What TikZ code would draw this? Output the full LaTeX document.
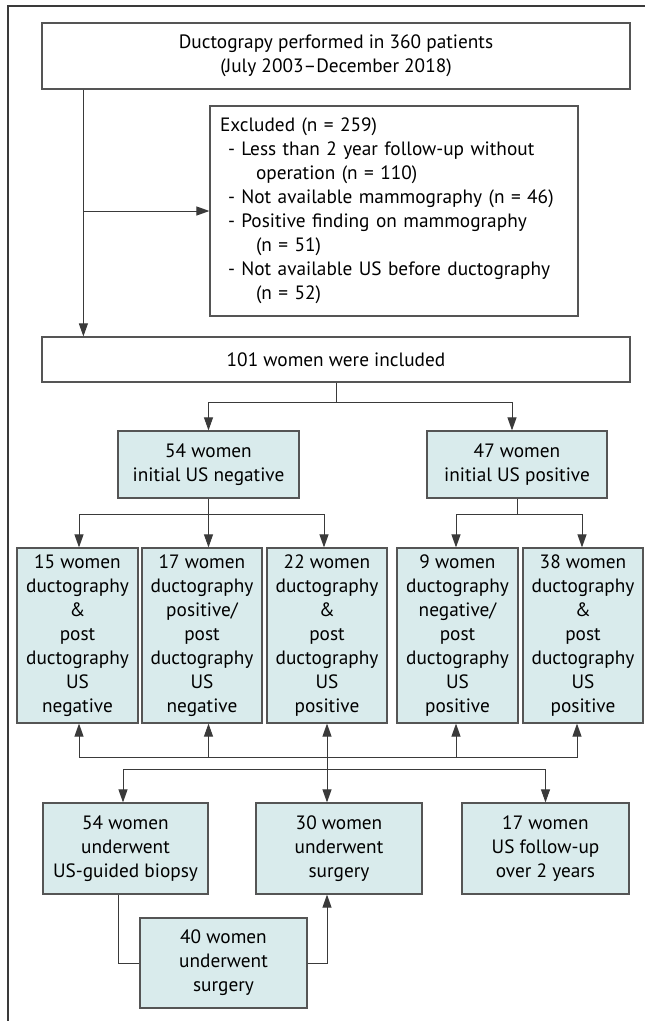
\documentclass[tikz,border=0pt]{standalone}
\usepackage{fontspec}
\setmainfont{PT Sans}
\usetikzlibrary{arrows.meta,calc}
\definecolor{boxfill}{HTML}{D9EBEC}
\definecolor{linec}{HTML}{3A3A3A}
\definecolor{borderc}{HTML}{555555}
\newcommand{\fsz}{\fontsize{19.3}{24}\selectfont}
\tikzset{
  wbox/.style={draw=borderc, line width=1.2pt, fill=white, inner sep=0pt, align=center, font=\fsz},
  bbox/.style={wbox, fill=boxfill},
  conn/.style={draw=linec, line width=1pt},
  arr/.style={conn, -{Triangle[length=13pt,width=9pt]}},
  frame/.style={draw=linec, line width=1.6pt},
}
\begin{document}
\begin{tikzpicture}[x=1pt,y=-1pt]
\useasboundingbox (0,0) rectangle (645,1021);
\coordinate (fa) at (8,1021);
\coordinate (fb) at (8,6);
\coordinate (fc) at (645,6);
\draw[frame] (fa) -- (fb) -- (fc);

\node[wbox, minimum width=588pt, minimum height=66pt] (top) at (336,56)
  {Ductograpy performed in 360 patients\\(July 2003--December 2018)};
\node[wbox, minimum width=368pt, minimum height=210pt, text width=348pt, align=left] (excl) at (394,211)
  {Excluded (n = 259)\\
   \hspace*{8pt}- Less than 2 year follow-up without\\
   \hspace*{36pt}operation (n = 110)\\
   \hspace*{8pt}- Not available mammography (n = 46)\\
   \hspace*{8pt}- Positive finding on mammography\\
   \hspace*{36pt}(n = 51)\\
   \hspace*{8pt}- Not available US before ductography\\
   \hspace*{36pt}(n = 52)};
\node[wbox, minimum width=588pt, minimum height=45pt] (incl) at (336,359.5) {101 women were included};

\node[bbox, minimum width=181pt, minimum height=67pt] (n54) at (208.5,464.5) {54 women\\initial US negative};
\node[bbox, minimum width=180pt, minimum height=67pt] (n47) at (517,464.5) {47 women\\initial US positive};

\node[bbox, minimum width=121pt, minimum height=175pt] (b1) at (77.5,635.5) {15 women\\ductography\\\&\\post\\ductography\\US\\negative};
\node[bbox, minimum width=120pt, minimum height=175pt] (b2) at (202,635.5) {17 women\\ductography\\positive/\\post\\ductography\\US\\negative};
\node[bbox, minimum width=120pt, minimum height=175pt] (b3) at (327,635.5) {22 women\\ductography\\\&\\post\\ductography\\US\\positive};
\node[bbox, minimum width=121pt, minimum height=175pt] (b4) at (457.5,635.5) {9 women\\ductography\\negative/\\post\\ductography\\US\\positive};
\node[bbox, minimum width=120pt, minimum height=175pt] (b5) at (583,635.5) {38 women\\ductography\\\&\\post\\ductography\\US\\positive};

\node[bbox, minimum width=165pt, minimum height=91pt] (r1) at (125.5,848.5) {54 women\\underwent\\US-guided biopsy};
\node[bbox, minimum width=166pt, minimum height=91pt] (r2) at (339,848.5) {30 women\\underwent\\surgery};
\node[bbox, minimum width=167pt, minimum height=91pt] (r3) at (545.5,848.5) {17 women\\US follow-up\\over 2 years};
\node[bbox, minimum width=167pt, minimum height=90pt] (n40) at (223.5,963) {40 women\\underwent\\surgery};

% top -> included / excluded
\coordinate (trunk) at ($(top.south west)+(42,0)$);
\draw[arr] (trunk) -- (trunk |- incl.north);
\draw[arr] (trunk |- excl.west) -- (excl.west);

% included -> 54 / 47
\coordinate (j1) at ($(incl.south)+(0,20)$);
\draw[conn] (incl.south) -- (j1);
\draw[arr] (j1) -| (n54.north);
\draw[arr] (j1) -| ($(n47.north)+(-5,0)$);

% 54 -> b1 b2 b3
\coordinate (j2) at ($(n54.south)+(0,16)$);
\draw[conn] (n54.south) -- (j2);
\draw[arr] (j2) -| ($(b1.north)+(1.5,0)$);
\draw[arr] (j2) -| ($(b3.north)+(-3,0)$);
\draw[arr] (j2) -- (j2 |- b2.north);

% 47 -> b4 b5
\coordinate (j3) at ($(n47.south)+(0,16)$);
\draw[conn] (n47.south) -- (j3);
\draw[arr] (j3) -| ($(b4.north)+(-1.5,0)$);
\draw[arr] (j3) -| ($(b5.north)+(-1,0)$);

% upper bus
\coordinate (u) at ($(b1.south)+(0,34)$);
\coordinate (u1) at ($(b1.south |- u)+(1.5,0)$);
\coordinate (u5) at ($(b5.south |- u)+(-6,0)$);
\draw[conn] (u1) -- (u5);
\draw[arr] (u1) -- (u1 |- b1.south);
\draw[arr] (j2 |- u) -- (j2 |- b2.south);
\draw[arr] ($(b4.south |- u)+(-1.5,0)$) -- ($(b4.south)+(-1.5,0)$);
\draw[arr] (u5) -- (u5 |- b5.south);

% lower bus
\coordinate (l) at ($(b1.south)+(0,46)$);
\coordinate (l1) at ($(r1.north |- l)+(-2.5,0)$);
\coordinate (l3) at (r3.north |- l);
\draw[conn] (l1) -- (l3);
\draw[arr] (b3.south |- l) -- (b3.south);
\draw[arr] (b3.south |- l) -- (b3.south |- r2.north);
\draw[arr] (l1) -- (l1 |- r1.north);
\draw[arr] (l3) -- (r3.north);

% biopsy -> 40 -> surgery
\coordinate (k) at ($(r1.south)+(-7,0)$);
\draw[conn] (k) |- (n40.west);
\draw[arr] (n40.east) -| (b3.south |- r2.south);
\end{tikzpicture}
\end{document}
